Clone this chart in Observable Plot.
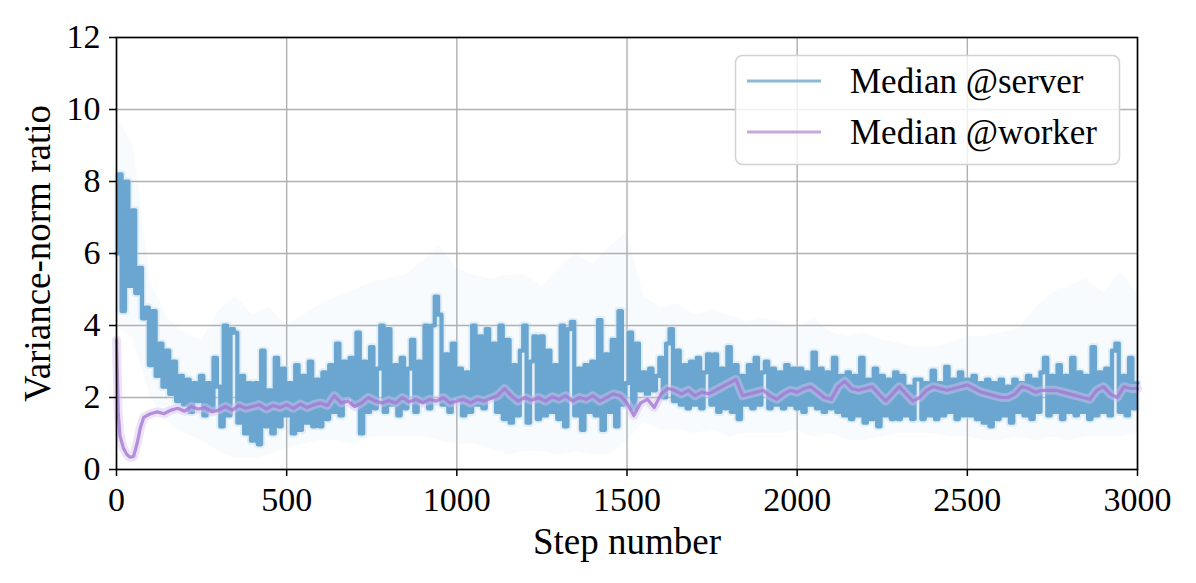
<!DOCTYPE html>
<html><head><meta charset="utf-8">
<script src="https://cdn.jsdelivr.net/npm/d3@7"></script>
<script src="https://cdn.jsdelivr.net/npm/@observablehq/plot@0.6"></script>
<style>
body{margin:0;background:#fff;}
#wrap{position:relative;width:1196px;height:583px;}
#legend{position:absolute;left:0;top:0;pointer-events:none;}
</style>
</head><body>
<div id="wrap"></div>
<script>
// ---- data ----
const stepInterval = 10;
const serverMedian = [
 6.0, 8.2, 4.4, 8.0, 5.1, 7.2, 4.9, 5.6, 4.2, 4.5,
 2.9, 4.4, 2.6, 3.5, 2.3, 3.3, 2.1, 3.0, 1.9, 2.6,
 1.8, 2.5, 1.6, 2.4, 1.9, 2.6, 1.5, 2.4, 1.7, 3.1,
 2.3, 1.2, 4.0, 1.5, 3.9, 3.8, 1.3, 2.6, 1.0, 2.4,
 0.8, 2.4, 0.7, 3.3, 1.2, 2.2, 1.0, 3.1, 1.2, 2.8,
 1.5, 2.4, 1.0, 2.9, 1.1, 2.6, 1.3, 3.0, 1.2, 2.5,
 1.2, 2.7, 1.4, 2.9, 1.6, 3.5, 1.5, 3.0, 2.0, 3.1,
 1.8, 3.8, 1.0, 3.0, 1.6, 3.4, 1.7, 2.8, 4.0, 1.6,
 3.9, 1.8, 2.9, 1.5, 3.1, 1.7, 2.8, 3.6, 1.6, 3.0,
 1.9, 4.0, 1.7, 4.0, 4.8, 4.3, 1.8, 3.2, 1.6, 3.5,
 2.0, 2.8, 1.5, 2.7, 1.6, 4.0, 1.8, 3.7, 1.7, 3.9,
 2.0, 3.5, 1.6, 4.0, 1.4, 3.6, 1.3, 2.9, 1.5, 3.3,
 4.0, 1.3, 3.0, 3.7, 1.4, 3.7, 1.5, 3.3, 1.6, 2.9,
 1.4, 4.0, 1.2, 3.9, 4.1, 1.5, 2.8, 1.1, 2.9, 1.6,
 3.0, 1.5, 4.15, 1.1, 3.2, 1.6, 3.6, 1.2, 4.4, 1.8,
 2.4, 3.8, 1.7, 3.5, 2.2, 2.7, 2.1, 2.8, 2.2, 2.6,
 3.1, 2.0, 3.5, 3.9, 1.9, 3.3, 1.8, 2.9, 1.7, 3.0,
 1.8, 3.1, 1.7, 2.7, 3.2, 1.8, 3.2, 1.6, 2.8, 1.7,
 3.4, 1.6, 2.9, 1.4, 2.6, 1.8, 2.9, 1.7, 3.1, 1.8,
 2.7, 3.0, 1.7, 2.8, 1.8, 2.7, 1.7, 2.9, 1.8, 2.8,
 1.7, 2.8, 1.6, 2.7, 1.8, 3.25, 1.7, 2.8, 1.6, 2.7,
 1.7, 3.1, 1.6, 2.6, 1.5, 2.7, 1.4, 2.6, 1.5, 3.1,
 1.3, 2.5, 1.4, 2.8, 1.2, 2.6, 1.5, 2.5, 1.4, 2.7,
 1.4, 2.6, 1.5, 2.3, 1.4, 2.5, 2.5, 1.4, 2.4, 1.5,
 2.75, 1.4, 2.4, 1.5, 2.85, 1.6, 2.5, 1.4, 2.7, 1.5,
 2.5, 1.5, 2.6, 1.4, 2.4, 1.3, 2.5, 1.2, 2.4, 1.4,
 2.5, 1.5, 2.3, 1.3, 2.5, 1.6, 2.4, 1.5, 2.6, 1.4,
 2.5, 1.6, 2.7, 3.1, 1.5, 2.6, 1.6, 2.9, 1.4, 2.6,
 1.6, 3.1, 1.5, 2.7, 1.6, 2.6, 1.4, 3.4, 1.5, 2.7,
 1.6, 2.8, 1.5, 3.3, 3.5, 1.6, 2.6, 1.5, 3.1, 1.7, 2.4
];

// faint spread of the server values (every 50 steps)
const bandSteps = d3.range(0, 3001, 50);
const serverLo = [
 4.0, 3.6, 2.0, 1.3, 1.0, 0.8, 0.5, 0.3, 0.3, 0.4,
 0.6, 0.7, 0.8, 0.8, 0.7, 0.9, 0.9, 0.9, 0.9, 0.8,
 0.7, 0.7, 0.6, 0.4, 0.5, 0.5, 0.4, 0.5, 0.4, 0.4,
 0.8, 1.3, 1.1, 1.1, 1.0, 1.1, 0.9, 1.0, 1.0, 1.0,
 1.1, 0.9, 1.0, 0.8, 0.8, 0.9, 1.0, 1.0, 1.0, 0.9,
 0.9, 0.8, 0.8, 0.9, 0.8, 0.9, 0.8, 0.9, 0.9, 0.9, 1.0
];
const serverHi = [
 9.8, 9.0, 5.2, 4.2, 3.8, 3.6, 4.4, 4.8, 4.3, 4.5,
 4.0, 4.3, 4.6, 4.8, 5.0, 5.2, 5.3, 5.4, 5.8, 6.2,
 5.6, 5.4, 5.3, 5.4, 5.4, 5.1, 5.6, 6.0, 5.7, 6.2,
 6.6, 4.8, 4.5, 4.6, 4.3, 4.4, 4.3, 4.1, 4.2, 4.1,
 3.9, 4.2, 3.8, 3.7, 3.8, 3.6, 3.5, 3.4, 3.4, 3.5,
 3.7, 3.7, 3.8, 3.9, 4.5, 4.9, 5.1, 5.3, 4.9, 5.5, 4.9
];

const workerEarlySteps = [0, 5, 10, 20, 30, 40, 50, 60, 70, 80, 90];
const workerEarly = [3.6, 1.6, 0.95, 0.6, 0.42, 0.34, 0.36, 0.7, 1.15, 1.45, 1.5];
const workerLate = [
 1.55, 1.6, 1.55, 1.65, 1.7, 1.62, 1.75, 1.68, 1.72, 1.6,
 1.65, 1.75, 1.65, 1.78, 1.7, 1.75, 1.8, 1.68, 1.78, 1.72,
 1.8, 1.7, 1.82, 1.72, 1.8, 1.85, 1.78, 2.05, 1.85, 1.9,
 1.75, 1.85, 2.0, 1.9, 1.85, 1.92, 1.85, 2.0, 1.88, 1.95,
 1.85, 1.95, 1.9, 2.0, 1.85, 1.9, 1.95, 1.85, 1.95, 1.9,
 1.98, 2.05, 2.25, 2.05, 1.9, 2.0, 1.92, 2.0, 1.9, 2.02,
 1.95, 2.05, 1.9, 2.0, 1.95, 2.05, 1.9, 2.0, 2.1, 2.05,
 1.85, 1.5, 1.85, 1.95, 1.72, 2.1, 2.25, 2.2, 2.1, 2.2,
 2.05, 2.15, 2.1, 2.2, 2.3, 2.4, 2.5, 2.05, 2.1, 2.15,
 2.2, 2.05, 1.95, 2.1, 2.2, 2.15, 2.25, 2.3, 2.15, 2.0,
 1.95, 2.3, 2.45, 2.25, 2.2, 2.25, 2.3, 2.1, 1.9, 2.1,
 2.3, 2.1, 1.9, 2.0, 2.2, 2.3, 2.25, 2.2, 2.25, 2.3,
 2.35, 2.25, 2.15, 2.1, 2.05, 2.0, 2.0, 2.1, 2.3, 2.25,
 2.15, 2.2, 2.2, 2.2, 2.15, 2.1, 2.05, 2.0, 1.95, 2.2,
 2.3, 2.1, 2.0, 2.3, 2.25, 2.25
];
const workerSteps = workerEarlySteps.concat(d3.range(100, 3001, 20));
const workerMedian = workerEarly.concat(workerLate);

const xTicks = [0, 500, 1000, 1500, 2000, 2500, 3000];
const yTicks = [0, 2, 4, 6, 8, 10, 12];
const legendLabels = ["Median @server", "Median @worker"];
const seriesColors = {server: "#6ba6d1", worker: "#a478d4"};

// ---- chart ----
const font = "'Liberation Serif', 'DejaVu Serif', serif";
const chart = Plot.plot({
  width: 1196, height: 583,
  marginLeft: 116, marginRight: 59, marginTop: 37, marginBottom: 114,
  style: {fontFamily: font, fontSize: "34px", color: "#000", background: "#fff", overflow: "visible"},
  x: {domain: [0, 3000]},
  y: {domain: [0, 12]},
  marks: [
    Plot.gridX({ticks: xTicks, stroke: "#b0b0b0", strokeOpacity: 1, strokeWidth: 1.4}),
    Plot.gridY({ticks: yTicks, stroke: "#b0b0b0", strokeOpacity: 1, strokeWidth: 1.4}),
    Plot.areaY(bandSteps, {x: d => d, y1: (d, i) => serverLo[i], y2: (d, i) => serverHi[i], fill: "#9ecae1", fillOpacity: 0.07}),
    Plot.lineY(serverMedian, {x: (d, i) => i * stepInterval, y: d => d, curve: "step", stroke: "#b5d6ec", strokeWidth: 8, strokeOpacity: 0.35}),
    Plot.lineY(serverMedian, {x: (d, i) => i * stepInterval, y: d => d, curve: "step", stroke: seriesColors.server, strokeWidth: 4.2}),
    Plot.lineY(workerMedian, {x: (d, i) => workerSteps[i], y: d => d, stroke: "#d9c3ee", strokeWidth: 9, strokeOpacity: 0.45}),
    Plot.lineY(workerMedian, {x: (d, i) => workerSteps[i], y: d => d, stroke: seriesColors.worker, strokeWidth: 3.2, strokeOpacity: 0.8}),
    Plot.frame({stroke: "#000", strokeWidth: 1.6}),
    Plot.axisX({ticks: xTicks, tickSize: 7, tickPadding: 10, tickFormat: d => String(d), label: null, stroke: "#000", strokeWidth: 1.5}),
    Plot.axisY({ticks: yTicks, tickSize: 7, tickPadding: 9, tickFormat: d => String(d), label: null, stroke: "#000", strokeWidth: 1.5}),
    Plot.text(["Step number"], {text: d => d, frameAnchor: "bottom", dy: 84, lineAnchor: "bottom", textAnchor: "middle", fontSize: 37}),
    Plot.text(["Variance-norm ratio"], {text: d => d, frameAnchor: "left", dx: -78, rotate: -90, textAnchor: "middle", lineAnchor: "middle", fontSize: 37})
  ]
});
const wrap = document.getElementById("wrap");
wrap.appendChild(chart);

// ---- legend overlay ----
const ns = "http://www.w3.org/2000/svg";
const lg = document.createElementNS(ns, "svg");
lg.setAttribute("id", "legend");
lg.setAttribute("width", 1196); lg.setAttribute("height", 583);
const box = document.createElementNS(ns, "rect");
Object.entries({x: 735.5, y: 55.5, width: 384, height: 109, rx: 7, fill: "rgba(255,255,255,0.8)", stroke: "#d2d2d2", "stroke-width": 1.5})
  .forEach(([k, v]) => box.setAttribute(k, v));
lg.appendChild(box);
const swatch = ["#8cbad3", "#c8a8dc"];
legendLabels.forEach((lab, i) => {
  const yy = 81 + i * 51;
  const ln = document.createElementNS(ns, "line");
  Object.entries({x1: 747, x2: 821, y1: yy, y2: yy, stroke: swatch[i], "stroke-width": 3})
    .forEach(([k, v]) => ln.setAttribute(k, v));
  lg.appendChild(ln);
  const t = document.createElementNS(ns, "text");
  t.setAttribute("x", 850); t.setAttribute("y", yy + 12);
  t.setAttribute("font-family", font); t.setAttribute("font-size", 35);
  t.textContent = lab;
  lg.appendChild(t);
});
wrap.appendChild(lg);
</script>
</body></html>
